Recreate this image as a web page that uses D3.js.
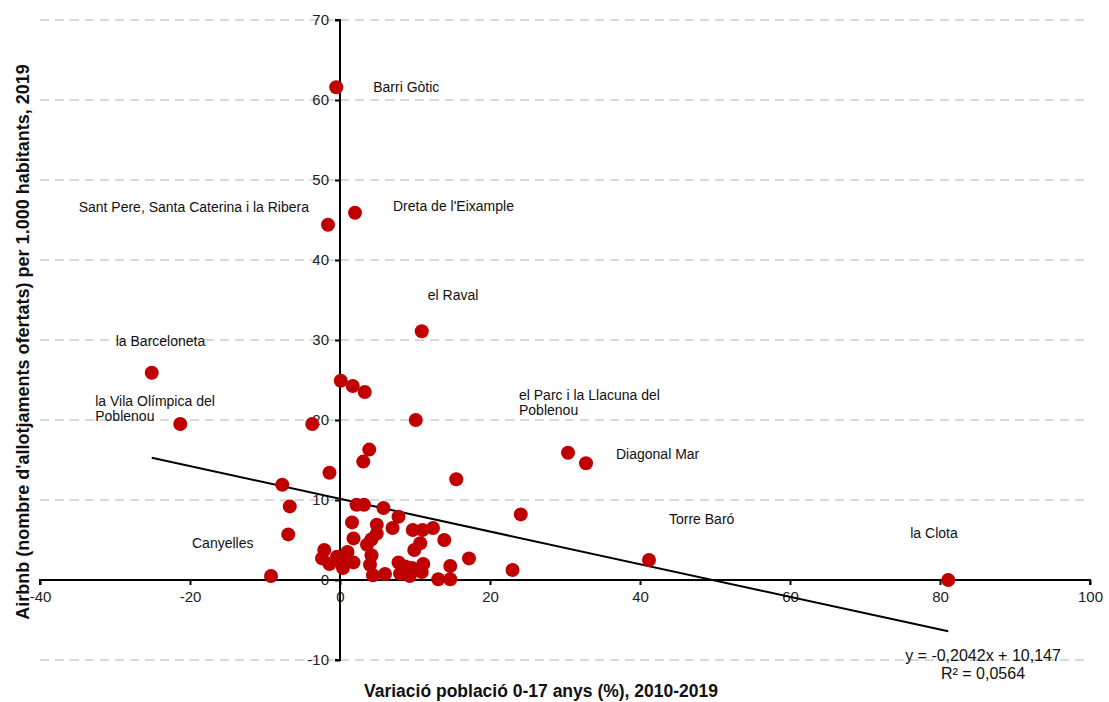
<!DOCTYPE html>
<html>
<head>
<meta charset="utf-8">
<script src="https://cdn.jsdelivr.net/npm/d3@7"></script>
<style>
  html, body { margin: 0; padding: 0; background: #fff; }
  svg { display: block; font-family: "Liberation Sans", Arial, sans-serif; }
</style>
</head>
<body>
<svg id="chart" width="1109" height="702"></svg>
<script>
// Variation of 0-17 population (%) per neighbourhood, 2010-2019
const popChange = [
  -0.5, 2.0, -1.6, 10.9, -25.1, -21.3, 30.4, 32.8, 41.2, 81.1, -9.2,
  0.1, 1.7, 3.3, -3.7, 10.1, 3.9, 3.1, -1.4, 15.5, 24.1, 23.0,
  -7.7, -6.7, -6.9, 2.2, 3.2, 5.8, 7.8, 1.6, 4.9, 7.0, 4.9, 1.8,
  4.2, 3.6, -2.1, -2.4, -0.4, 1.0, 0.2, 1.8, -1.4, 0.4, 4.2, 4.0,
  4.4, 6.0, 9.7, 11.0, 12.4, 13.9, 10.7, 9.9, 17.2, 7.8, 8.7, 9.6,
  11.1, 14.7, 8.0, 9.3, 10.9, 13.1, 14.7
];
// Airbnb listings per 1,000 inhabitants, 2019
const airbnbRate = [
  61.6, 45.9, 44.4, 31.1, 25.9, 19.5, 15.9, 14.6, 2.5, 0.0, 0.5,
  24.9, 24.25, 23.5, 19.5, 20.0, 16.3, 14.8, 13.4, 12.6, 8.2, 1.25,
  11.9, 9.2, 5.7, 9.4, 9.4, 9.0, 7.9, 7.2, 6.9, 6.5, 5.8, 5.2,
  5.1, 4.4, 3.75, 2.7, 2.9, 3.5, 2.1, 2.2, 2.0, 1.5, 3.1, 1.9,
  0.6, 0.75, 6.25, 6.25, 6.5, 5.0, 4.6, 3.75, 2.7, 2.2, 1.7, 1.5,
  2.0, 1.75, 0.8, 0.5, 1.0, 0.1, 0.1
];
// Named neighbourhoods (index into the arrays above)
const labelIndex = [0, 1, 2, 3, 4, 5, 6, 7, 8, 9, 10];
const labelText = [
  ["Barri Gòtic"],
  ["Dreta de l'Eixample"],
  ["Sant Pere, Santa Caterina i la Ribera"],
  ["el Raval"],
  ["la Barceloneta"],
  ["la Vila Olímpica del", "Poblenou"],
  ["el Parc i la Llacuna del", "Poblenou"],
  ["Diagonal Mar"],
  ["Torre Baró"],
  ["la Clota"],
  ["Canyelles"]
];
// Linear trend
const trendSlope = -0.2042;
const trendIntercept = 10.147;
const trendText = ["y = -0,2042x + 10,147", "R² = 0,0564"];

const xTicks = [-40, -20, 0, 20, 40, 60, 80, 100];
const yTicks = [-10, 0, 10, 20, 30, 40, 50, 60, 70];

// label placement relative to the point (pixels)
const labelOffset = [
  {dx: 37, dy: 0, anchor: "start"},
  {dx: 38, dy: -7, anchor: "start"},
  {dx: -19, dy: -18, anchor: "end"},
  {dx: 6, dy: -36, anchor: "start"},
  {dx: -36, dy: -32, anchor: "start"},
  {dx: -85, dy: -23, anchor: "start"},
  {dx: -49, dy: -58, anchor: "start"},
  {dx: 30, dy: -9, anchor: "start"},
  {dx: 20, dy: -41, anchor: "start"},
  {dx: -38, dy: -47, anchor: "start"},
  {dx: -79, dy: -33, anchor: "start"}
];

const svg = d3.select("#chart");
const x = d3.scaleLinear().domain([-40, 100]).range([40, 1090]);
const y = d3.scaleLinear().domain([-10, 70]).range([660, 20]);

// dashed horizontal gridlines
svg.append("g")
  .selectAll("line")
  .data(yTicks.filter(d => d !== 0))
  .join("line")
  .attr("x1", x(-40)).attr("x2", x(100))
  .attr("y1", d => y(d)).attr("y2", d => y(d))
  .attr("stroke", "#d9d9d9")
  .attr("stroke-width", 2)
  .attr("stroke-dasharray", "9,6");

// axes crossing at the origin
const fmt = d => String(d);
const xAxis = d3.axisBottom(x).tickValues(xTicks).tickSize(5).tickPadding(6).tickFormat(fmt);
const yAxis = d3.axisLeft(y).tickValues(yTicks).tickSize(5).tickPadding(6).tickFormat(fmt);

const gx = svg.append("g").attr("transform", `translate(0,${y(0)})`).call(xAxis);
const gy = svg.append("g").attr("transform", `translate(${x(0)},0)`).call(yAxis);

[gx, gy].forEach(g => {
  g.select(".domain").attr("stroke", "#000").attr("stroke-width", 2);
  g.selectAll(".tick line").attr("stroke", "#000").attr("stroke-width", 2);
  g.selectAll(".tick text")
    .attr("fill", "#222")
    .style("font-family", "'Liberation Sans', Arial, sans-serif")
    .style("font-size", "15px");
});
gx.select(".domain").attr("d", `M${x(-40)},5V0H${x(100)}V5`);
gy.select(".domain").attr("d", `M-5,${y(70)}H0V${y(-10)}H-5`);

// trend line over the data range
const xExt = d3.extent(popChange);
svg.append("line")
  .attr("x1", x(xExt[0])).attr("y1", y(trendSlope * xExt[0] + trendIntercept))
  .attr("x2", x(xExt[1])).attr("y2", y(trendSlope * xExt[1] + trendIntercept))
  .attr("stroke", "#000").attr("stroke-width", 2);

// neighbourhood points
const points = popChange.map((v, i) => ({x: v, y: airbnbRate[i]}));
svg.append("g")
  .selectAll("circle")
  .data(points)
  .join("circle")
  .attr("cx", d => x(d.x))
  .attr("cy", d => y(d.y))
  .attr("r", 7)
  .attr("fill", "#c00000");

// neighbourhood names
const lab = svg.append("g")
  .style("font-size", "14px")
  .attr("fill", "#111");
labelIndex.forEach((idx, k) => {
  const o = labelOffset[k];
  const px = x(popChange[idx]) + o.dx;
  const t = lab.append("text")
    .attr("text-anchor", o.anchor)
    .attr("x", px)
    .attr("y", y(airbnbRate[idx]) + o.dy);
  labelText[k].forEach((line, j) => {
    t.append("tspan")
      .attr("x", px)
      .attr("dy", j === 0 ? "0.35em" : "15px")
      .text(line);
  });
});

// equation
const eq = svg.append("text")
  .attr("text-anchor", "middle")
  .style("font-size", "16px")
  .attr("fill", "#111");
trendText.forEach((line, j) => {
  eq.append("tspan")
    .attr("x", 983)
    .attr("y", 661 + j * 18)
    .text(line);
});

// axis titles
svg.append("text")
  .attr("x", 541).attr("y", 697)
  .attr("text-anchor", "middle")
  .style("font-size", "17.5px").style("font-weight", "bold")
  .attr("fill", "#111")
  .text("Variació població 0-17 anys (%), 2010-2019");

svg.append("text")
  .attr("transform", "translate(29,342) rotate(-90)")
  .attr("text-anchor", "middle")
  .style("font-size", "18px").style("font-weight", "bold")
  .attr("fill", "#111")
  .text("Airbnb (nombre d'allotjaments ofertats) per 1.000 habitants, 2019");
</script>
</body>
</html>
